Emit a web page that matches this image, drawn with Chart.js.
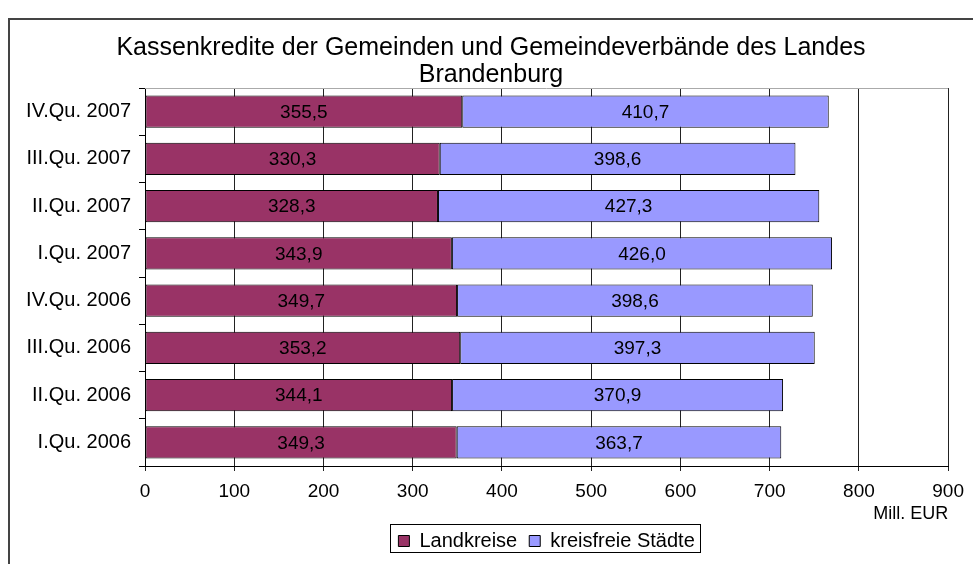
<!DOCTYPE html>
<html>
<head>
<meta charset="utf-8">
<script src="https://cdn.jsdelivr.net/npm/chart.js@4"></script>
<style>
  html, body { margin: 0; padding: 0; background: #fff; }
  canvas { display: block; }
</style>
</head>
<body>
<canvas id="grafico" width="973" height="564"></canvas>
<script>
// Quartale, von oben nach unten wie im Bild
const quartale = ['IV.Qu. 2007', 'III.Qu. 2007', 'II.Qu. 2007', 'I.Qu. 2007',
                  'IV.Qu. 2006', 'III.Qu. 2006', 'II.Qu. 2006', 'I.Qu. 2006'];
const landkreise = [355.5, 330.3, 328.3, 343.9, 349.7, 353.2, 344.1, 349.3];
const kreisfreieStaedte = [410.7, 398.6, 427.3, 426.0, 398.6, 397.3, 370.9, 363.7];
const xTicks = [0, 100, 200, 300, 400, 500, 600, 700, 800, 900];

const schrift = '"Liberation Sans", Arial, sans-serif';

// Werte mittig in die Balken schreiben
const wertePlugin = {
  id: 'werte',
  afterDatasetsDraw(chart) {
    const ctx = chart.ctx;
    ctx.save();
    ctx.font = '19px ' + schrift;
    ctx.fillStyle = '#000';
    ctx.textAlign = 'center';
    ctx.textBaseline = 'middle';
    chart.data.datasets.forEach((ds, i) => {
      chart.getDatasetMeta(i).data.forEach((bar, j) => {
        const txt = ds.data[j].toFixed(1).replace('.', ',');
        ctx.fillText(txt, (bar.x + bar.base) / 2, bar.y + 1);
      });
    });
    ctx.restore();
  }
};

// Rahmen: Diagrammrand, obere Linie der Zeichenfläche, Kasten um die Legende
const rahmenPlugin = {
  id: 'rahmen',
  beforeDraw(chart) {
    const ctx = chart.ctx;
    ctx.save();
    ctx.fillStyle = '#fff';
    ctx.fillRect(0, 0, chart.width, chart.height);
    ctx.strokeStyle = '#444';
    ctx.lineWidth = 2;
    ctx.beginPath();
    ctx.moveTo(9, chart.height);
    ctx.lineTo(9, 19);
    ctx.lineTo(chart.width, 19);
    ctx.stroke();
    ctx.restore();
  },
  afterDraw(chart) {
    const ctx = chart.ctx;
    const a = chart.chartArea;
    ctx.save();
    ctx.strokeStyle = '#aaa';
    ctx.lineWidth = 1;
    ctx.beginPath();
    ctx.moveTo(a.left, Math.round(a.top) + 0.5);
    ctx.lineTo(a.right, Math.round(a.top) + 0.5);
    ctx.stroke();
    const boxes = chart.legend.legendHitBoxes;
    if (boxes && boxes.length) {
      const l = Math.min(...boxes.map(b => b.left)) - 8;
      const r = Math.max(...boxes.map(b => b.left + b.width)) + 6;
      const t = Math.min(...boxes.map(b => b.top)) - 7;
      const btm = Math.max(...boxes.map(b => b.top + b.height)) + 1;
      ctx.strokeStyle = '#000';
      ctx.strokeRect(Math.round(l) + 0.5, Math.round(t) + 0.5, Math.round(r - l), Math.round(btm - t));
    }
    ctx.restore();
  }
};

new Chart(document.getElementById('grafico'), {
  type: 'bar',
  data: {
    labels: quartale,
    datasets: [{
      label: 'Landkreise',
      data: landkreise,
      backgroundColor: '#993366',
      borderColor: '#000',
      borderWidth: 1,
      borderSkipped: false,
      barPercentage: 0.68,
      categoryPercentage: 1
    }, {
      label: 'kreisfreie Städte',
      data: kreisfreieStaedte,
      backgroundColor: '#9999ff',
      borderColor: '#000',
      borderWidth: 1,
      borderSkipped: false,
      barPercentage: 0.68,
      categoryPercentage: 1
    }]
  },
  options: {
    indexAxis: 'y',
    responsive: false,
    devicePixelRatio: 1,
    animation: false,
    layout: { padding: { top: 35, right: 0, bottom: 3, left: 9 } },
    scales: {
      x: {
        stacked: true,
        min: 0,
        max: 900,
        afterBuildTicks(scale) {
          scale.ticks = xTicks.map(v => ({ value: v }));
        },
        afterFit(scale) { scale.height = 53; },
        grid: { color: '#222', lineWidth: 1, tickLength: 5, drawTicks: true },
        border: { color: '#000', width: 1 },
        ticks: {
          color: '#000',
          font: { family: schrift, size: 19 },
          padding: 9,
          maxRotation: 0
        },
        title: {
          display: true,
          text: 'Mill. EUR',
          align: 'end',
          color: '#000',
          font: { family: schrift, size: 18 },
          padding: { top: 0, bottom: -6 }
        }
      },
      y: {
        stacked: true,
        afterFit(scale) { scale.width = 136; },
        grid: { offset: true, drawOnChartArea: false, drawTicks: true, tickLength: 6, color: '#000' },
        border: { color: '#000', width: 1 },
        ticks: {
          color: '#000',
          font: { family: schrift, size: 20 },
          padding: 8
        }
      },
      // leerer Rand rechts neben der Zeichenfläche
      rand: {
        axis: 'y',
        position: 'right',
        afterFit(scale) { scale.width = 24; },
        grid: { display: false },
        border: { display: false },
        ticks: { display: false }
      }
    },
    plugins: {
      title: {
        display: true,
        text: ['Kassenkredite der Gemeinden und Gemeindeverbände des Landes', 'Brandenburg'],
        color: '#000',
        font: { family: schrift, size: 25, weight: 'normal', lineHeight: 1.06 },
        padding: { top: 0, bottom: 0 }
      },
      legend: {
        position: 'bottom',
        fullSize: false,
        labels: {
          color: '#000',
          font: { family: schrift, size: 20 },
          boxWidth: 11,
          boxHeight: 11,
          padding: 12,
          useBorderRadius: false
        }
      },
      tooltip: { enabled: false }
    }
  },
  plugins: [wertePlugin, rahmenPlugin]
});
</script>
</body>
</html>
